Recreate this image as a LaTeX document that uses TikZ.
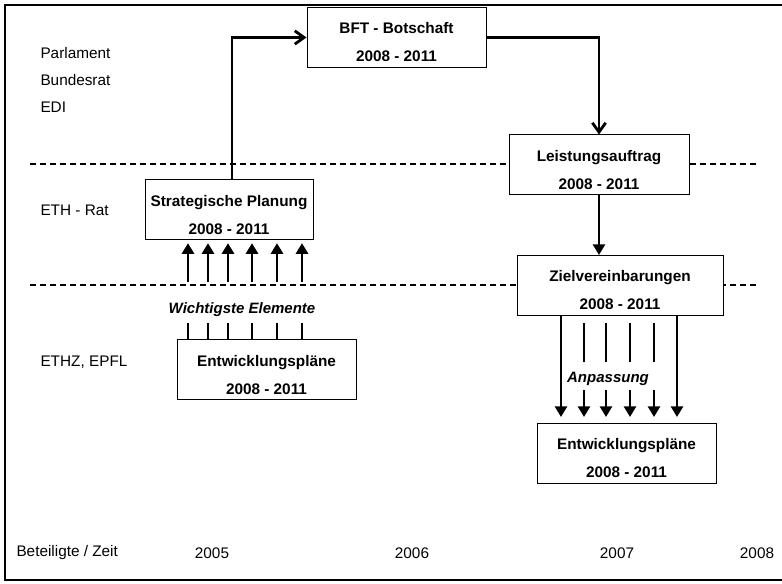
\documentclass[tikz,border=0pt]{standalone}
\usepackage{fontspec}
\setmainfont{Liberation Sans}
\usetikzlibrary{arrows.meta}

\tikzset{every picture/.style={line width=0.75pt}}
\tikzset{
  planbox/.style={draw, fill=white, line width=0.75pt, align=center, inner sep=0pt,
    minimum height=45pt, font=\bfseries\fontsize{11.5}{21}\selectfont},
  lbl/.style={anchor=west, inner sep=0pt, font=\fontsize{11.5}{13.5}\selectfont},
  yr/.style={inner sep=0pt, font=\fontsize{11.5}{13.5}\selectfont},
  note/.style={anchor=base, inner xsep=2pt, inner ysep=0pt, font=\bfseries\itshape\fontsize{11.25}{13.5}\selectfont},
  flow/.style={line width=2.1pt},
  openarr/.style={flow, -{Straight Barb[length=7pt,width=10pt]}},
  fillarr/.style={flow, -{Triangle[length=8pt,width=9pt]}},
  sep/.style={dash pattern=on 4.5pt off 3pt, line width=1.1pt}
}
\newcommand{\topstrut}{\rule{0pt}{15.75pt}}

\begin{document}
\begin{tikzpicture}[x=0.75pt,y=0.75pt,yscale=-1,xscale=1]
\useasboundingbox (0,0) rectangle (782,584);

%Frame
\draw [line width=2.2pt] (782,5) -- (5,5) -- (5,580) -- (782,580) ;

%Dashed Lines
\draw [sep] (30,164) -- (760,164) ;
\draw [sep] (30,285) -- (760,285) ;

% Boxes
\node [planbox, minimum width=134.25pt] (bft) at (396.5,37.5) {\topstrut BFT - Botschaft\\2008 - 2011};
\node [planbox, minimum width=135pt] (leist) at (599,165) {\topstrut Leistungsauftrag\\2008 - 2011};
\node [planbox, minimum width=126pt] (strat) at (229,210) {\topstrut Strategische Planung\\2008 - 2011};
\node [planbox, minimum width=134.25pt] (entl) at (266.5,370) {\topstrut Entwicklungspläne\\2008 - 2011};
\node [planbox, minimum width=154.5pt] (ziel) at (620,285.5) {\topstrut Zielvereinbarungen\\2008 - 2011};
\node [planbox, minimum width=134.25pt] (entr) at (626.5,453.5) {\topstrut Entwicklungspläne\\2008 - 2011};

% Text Node
\node [note, text height=23.5pt, text depth=6.5pt] (wich) at (242,313.4) {Wichtigste Elemente};
% Text Node
\node [note, text height=14.6pt, text depth=5.7pt] (anp) at (608,382.4) {Anpassung};

% Text Node
\node [lbl] (parl) at (40,53) {Parlament};
\node [lbl] (brat) at (40,80) {Bundesrat};
\node [lbl] (edi) at (40,107) {EDI};
\node [lbl] (ethrat) at (40,210) {ETH - Rat};
\node [lbl] (ethz) at (40,362) {ETHZ, EPFL};
\node [lbl] (zeit) at (16,553) {Beteiligte / Zeit};
\node [yr] (y05) at (212,553) {2005};
\node [yr] (y06) at (412,553) {2006};
\node [yr] (y07) at (617,553) {2007};
\node [yr] (y08) at (757,553) {2008};

%Connectors
\draw [openarr] ([xshift=2.25pt]strat.north) |- (bft.west) ;
\draw [openarr] (bft.east) -| (leist.north) ;
\draw [fillarr] (leist.south) -- (leist.south |- ziel.north) ;

%Up arrows
\foreach \x in {188,208,228,252,277,302} {
  \coordinate (u) at (\x,0);
  \draw [flow] (u |- entl.north) -- (u |- wich.south) ;
  \draw [fillarr, shorten >=2pt] (u |- wich.north) -- (u |- strat.south) ;
}

%Down arrows
\foreach \x in {561,677} {
  \coordinate (d) at (\x,0);
  \draw [fillarr, shorten >=4.5pt] (d |- ziel.south) -- (d |- entr.north) ;
}
\foreach \x in {584,606,630,654} {
  \coordinate (d) at (\x,0);
  \draw [flow, shorten <=5.25pt] (d |- ziel.south) -- (d |- anp.north) ;
  \draw [fillarr, shorten >=4.5pt] (d |- anp.south) -- (d |- entr.north) ;
}

\end{tikzpicture}
\end{document}
